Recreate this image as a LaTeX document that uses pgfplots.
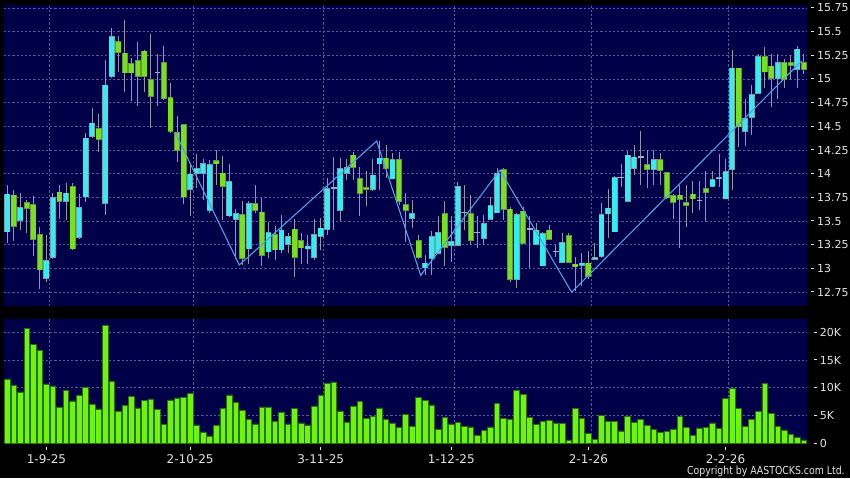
\documentclass[border=0pt]{standalone}
\usepackage{fontspec}
\setmainfont{DejaVu Sans}
\usepackage{pgfplots}
\pgfplotsset{compat=1.18}
\usepackage{pgfplotstable}

\definecolor{navy}{RGB}{0,0,72}
\definecolor{cyanfill}{RGB}{51,238,238}
\definecolor{cyanedge}{RGB}{120,160,180}
\definecolor{greenfill}{RGB}{120,225,30}
\definecolor{greenedge}{RGB}{100,150,70}
\definecolor{wick}{RGB}{150,150,170}
\definecolor{doji}{RGB}{170,170,190}
\definecolor{volfill}{RGB}{110,245,10}
\definecolor{voledge}{RGB}{40,110,20}
\definecolor{zig}{RGB}{80,160,230}
\definecolor{gridc}{RGB}{90,90,150}
\definecolor{labelc}{RGB}{228,228,228}

\newcommand{\tickdash}{\rule[0.33em]{1.25pt}{0.5pt}\hspace{1.6pt}}

% daily candles, one row per trading day: open high low close
\pgfplotstableread{
o h l c
13.38 13.88 13.27 13.79
13.78 13.83 13.29 13.44
13.50 13.80 13.40 13.65
13.70 13.72 13.37 13.63
13.68 13.76 13.13 13.30
13.36 13.44 12.78 12.98
12.89 13.35 12.86 13.09
13.11 13.80 13.10 13.75
13.81 13.88 13.52 13.70
13.70 13.90 13.51 13.80
13.87 13.90 13.19 13.20
13.32 13.79 13.31 13.65
13.75 14.43 13.70 14.38
14.39 14.69 14.38 14.54
14.48 14.63 14.23 14.36
13.68 15.20 13.56 14.94
15.02 15.54 15.01 15.45
15.40 15.45 15.07 15.28
15.28 15.62 14.86 15.06
15.17 15.22 14.77 15.06
15.20 15.39 14.72 15.02
15.30 15.31 14.86 15.02
15.00 15.48 14.48 14.81
15.07 15.26 14.72 15.07
15.18 15.35 14.78 14.79
14.81 14.96 14.43 14.44
14.44 14.61 14.12 14.24
14.52 14.53 13.68 13.75
13.83 14.11 13.55 14.00
14.00 14.21 13.85 14.06
14.00 14.16 13.72 14.11
13.61 14.14 13.58 14.10
14.14 14.25 13.88 14.10
14.01 14.19 13.51 13.86
13.55 14.10 13.54 13.92
13.51 13.63 13.10 13.58
13.57 13.71 13.04 13.10
13.20 13.71 13.05 13.69
13.69 13.88 13.58 13.61
13.60 13.74 13.03 13.13
13.17 13.49 13.11 13.38
13.36 13.45 13.09 13.19
13.19 13.56 13.16 13.41
13.25 13.37 13.16 13.34
13.42 13.52 12.91 13.11
13.30 13.37 13.05 13.21
13.20 13.35 13.05 13.24
13.11 13.52 13.09 13.36
13.33 13.53 13.19 13.43
13.41 13.95 13.35 13.85
13.85 14.18 13.41 13.85
13.61 14.17 13.50 14.06
14.00 14.15 13.93 14.07
14.20 14.23 13.93 14.06
13.95 14.07 13.55 13.79
13.86 14.03 13.66 13.83
13.83 14.16 13.82 13.99
14.10 14.34 13.83 14.17
14.17 14.30 13.95 14.05
13.94 14.22 13.94 14.15
14.15 14.23 13.67 13.70
13.68 13.80 13.28 13.61
13.52 13.72 13.43 13.58
13.30 13.35 13.10 13.11
13.00 13.14 12.93 13.06
13.10 13.39 12.93 13.34
13.15 13.55 13.15 13.38
13.58 13.71 13.03 13.22
13.24 13.55 13.07 13.29
13.24 13.91 13.24 13.87
13.59 13.88 13.40 13.59
13.58 13.78 13.25 13.29
13.38 13.55 13.21 13.38
13.31 13.56 13.25 13.48
13.51 13.75 13.51 13.67
13.58 14.06 13.58 14.01
14.05 14.06 13.51 13.62
13.63 13.65 12.86 12.88
12.88 13.58 12.79 13.57
13.61 13.65 13.26 13.26
13.42 13.55 13.00 13.42
13.25 13.48 13.25 13.41
13.02 13.38 13.02 13.37
13.41 13.46 13.30 13.30
13.18 13.25 13.12 13.18
13.06 13.37 13.06 13.28
13.35 13.37 13.06 13.06
13.05 13.12 12.76 13.01
13.03 13.16 12.81 13.06
13.06 13.18 12.89 12.91
13.09 13.27 13.09 13.12
13.12 13.69 13.11 13.57
13.57 13.84 13.32 13.64
13.38 13.98 13.38 13.96
13.96 14.10 13.86 13.96
13.70 14.24 13.70 14.20
14.05 14.30 13.99 14.18
14.18 14.45 13.88 14.18
14.10 14.25 13.85 14.04
14.04 14.25 13.88 14.15
14.15 14.22 13.88 14.03
14.02 14.02 13.73 13.74
13.77 13.79 13.52 13.69
13.78 13.88 13.21 13.72
13.70 13.88 13.44 13.66
13.79 13.92 13.58 13.73
13.72 13.92 13.62 13.72
13.85 14.03 13.50 13.80
13.86 14.03 13.86 13.94
13.94 14.21 13.86 13.96
13.73 14.15 13.73 14.03
14.04 15.31 13.83 15.12
15.12 15.12 14.28 14.49
14.44 14.79 14.29 14.59
14.59 14.94 14.41 14.84
14.84 15.26 14.84 15.24
15.24 15.34 14.91 15.07
15.14 15.26 14.70 15.00
15.00 15.26 14.79 15.18
15.18 15.21 14.91 14.99
15.18 15.24 15.00 15.14
15.10 15.35 14.91 15.32
15.18 15.26 15.05 15.10
}\candles

% volume in thousands
\pgfplotstableread{
v
11.59
10.39
9.25
20.72
17.84
16.76
10.69
10.33
6.55
9.49
7.63
8.59
10.15
7.09
6.19
21.32
11.11
5.77
6.85
8.41
6.37
7.69
7.99
6.07
3.42
7.81
8.17
8.23
9.01
3.30
2.04
1.32
3.24
6.31
8.71
7.33
5.89
4.32
3.48
6.55
6.55
3.96
5.59
3.48
6.31
3.66
3.30
6.73
8.71
10.75
11.05
5.83
3.84
6.73
7.51
4.44
4.92
6.37
4.38
3.66
2.82
5.17
3.00
8.29
7.75
6.91
2.46
4.62
3.48
3.72
3.06
2.94
1.44
2.34
2.94
7.21
4.56
4.26
9.61
8.83
4.74
3.36
4.02
4.20
3.66
3.54
0.60
6.25
4.56
1.80
0.66
5.05
3.90
3.90
2.22
4.92
3.78
4.32
3.24
2.52
1.98
2.10
2.58
4.86
2.82
1.44
2.76
2.82
3.66
2.70
8.11
9.97
6.31
3.06
4.38
5.77
10.81
5.41
3.06
2.40
1.68
1.08
0.60
}\volume

\pgfplotsset{
  panel/.style={
    scale only axis, width=401.5pt,
    xmin=-0.5, xmax=122.47,
    axis background/.style={fill=navy},
    axis line style={draw=none},
    ytick pos=right,
    ytick style={draw=none},
    yticklabel style={anchor=west, inner sep=0pt, xshift=2pt,
      font=\fontsize{5.5}{6}\selectfont, text=labelc},
    ymajorgrids,
    grid style={gridc, line width=0.45pt, dash pattern=on 1.1pt off 1pt},
  },
  bodies/.style={draw=none, mark=none, forget plot,
    error bars/.cd, y dir=both, y explicit, error mark=none},
}

\begin{document}
\begin{tikzpicture}
\path[use as bounding box] (0pt,0pt) rectangle (425pt,239pt);
\fill[black] (0pt,0pt) rectangle (425pt,239pt);

% price panel
\begin{axis}[panel,
  at={(2pt,86pt)}, anchor=south west, height=150.5pt,
  ymin=12.602, ymax=15.782,
  ytick={12.75,13,13.25,13.5,13.75,14,14.25,14.5,14.75,15,15.25,15.5,15.75},
  yticklabels={\tickdash 12.75,\tickdash 13,\tickdash 13.25,\tickdash 13.5,
    \tickdash 13.75,\tickdash 14,\tickdash 14.25,\tickdash 14.5,\tickdash 14.75,
    \tickdash 15,\tickdash 15.25,\tickdash 15.5,\tickdash 15.75},
  xtick={6.45,28.45,48.45,68.45,89.45,110.45}, xticklabels={},
  xtick style={draw=none}, xmajorgrids,
]
% wicks
\addplot[bodies, error bar style={draw=wick, line width=0.5pt}]
  table[x expr=\coordindex, y expr={(\thisrow{h}+\thisrow{l})/2},
        y error expr={(\thisrow{h}-\thisrow{l})/2}] {\candles};
% rising days
\addplot[bodies, error bar style={draw=cyanedge, line width=2.95pt}]
  table[x expr=\coordindex,
        y expr={\thisrow{c}>\thisrow{o} ? (\thisrow{o}+\thisrow{c})/2 : nan},
        y error expr={abs(\thisrow{c}-\thisrow{o})/2}] {\candles};
\addplot[bodies, error bar style={draw=cyanfill, line width=2.3pt}]
  table[x expr=\coordindex,
        y expr={\thisrow{c}>\thisrow{o} ? (\thisrow{o}+\thisrow{c})/2 : nan},
        y error expr={max(abs(\thisrow{c}-\thisrow{o})/2-0.0075,0.001)}] {\candles};
% falling days
\addplot[bodies, error bar style={draw=greenedge, line width=2.95pt}]
  table[x expr=\coordindex,
        y expr={\thisrow{c}<\thisrow{o} ? (\thisrow{o}+\thisrow{c})/2 : nan},
        y error expr={abs(\thisrow{c}-\thisrow{o})/2}] {\candles};
\addplot[bodies, error bar style={draw=greenfill, line width=2.3pt}]
  table[x expr=\coordindex,
        y expr={\thisrow{c}<\thisrow{o} ? (\thisrow{o}+\thisrow{c})/2 : nan},
        y error expr={max(abs(\thisrow{c}-\thisrow{o})/2-0.0075,0.001)}] {\candles};
% unchanged days
\addplot[bodies, error bar style={draw=doji, line width=2.95pt}]
  table[x expr=\coordindex,
        y expr={\thisrow{c}==\thisrow{o} ? \thisrow{c} : nan},
        y error expr={0.006}] {\candles};
% zigzag
\addplot[zig, line width=0.55pt] coordinates {
  (25.68,14.44) (35.53,13.035) (56.57,14.345) (63.31,12.926)
  (75.45,14.039) (86.43,12.747) (121.65,15.19)};
\end{axis}

% volume panel
\begin{axis}[panel,
  at={(2pt,17.35pt)}, anchor=south west, height=62.15pt,
  ymin=0, ymax=22.4,
  ytick={5,10,15,20},
  yticklabels={\tickdash 5K,\tickdash 10K,\tickdash 15K,\tickdash 20K},
  extra y ticks={0}, extra y tick labels={\tickdash 0},
  extra y tick style={grid=none},
  xtick={6,28,48,68,89,110},
  xticklabels={1-9-25,2-10-25,3-11-25,1-12-25,2-1-26,2-2-26},
  xtick pos=bottom, tick align=outside, major tick length=1.4pt,
  xtick style={draw=labelc, line width=0.5pt, yshift=-1.7pt},
  xticklabel style={anchor=north, inner sep=0pt, yshift=-3.9pt,
    font=\fontsize{6}{7}\selectfont, text=labelc},
  extra x ticks={6.45,28.45,48.45,68.45,89.45,110.45},
  extra x tick labels={},
  extra x tick style={grid=major, major tick length=0pt},
]
\addplot[ybar, bar width=0.86, bar shift=0pt, fill=volfill, draw=voledge,
  line width=0.4pt] table[x expr=\coordindex, y=v] {\volume};
\end{axis}

\node[anchor=base east, inner sep=0pt, xscale=0.85,
  font=\fontsize{5.5}{6}\selectfont, text=labelc]
  at (422.5pt,1.7pt) {Copyright by AASTOCKS.com Ltd.};
\end{tikzpicture}
\end{document}
